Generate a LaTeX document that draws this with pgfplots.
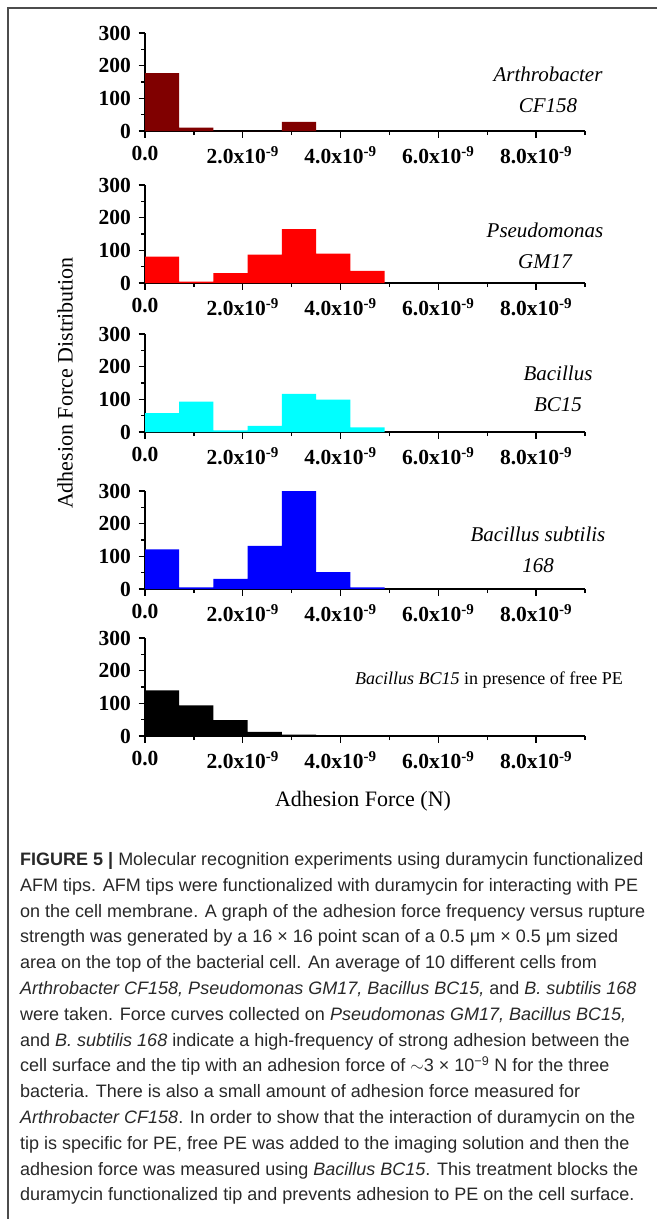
\documentclass[border=0pt]{standalone}
\usepackage{fontspec}
\setmainfont{Liberation Serif}
\newfontfamily\capfont{Liberation Sans}
\usepackage{pgfplots}
\pgfplotsset{compat=1.18}

\definecolor{arthro}{RGB}{128,0,0}
\definecolor{pseudo}{RGB}{255,0,0}
\definecolor{bcfift}{RGB}{0,255,255}
\definecolor{subtil}{RGB}{0,0,255}
\definecolor{captxt}{RGB}{40,40,40}

% one histogram panel; x in units of 1e-9 N, bins 0.7e-9 wide
\pgfplotsset{panel/.style={
  scale only axis, width=440pt, height=98pt,
  anchor=south west,
  xmin=0, xmax=9, ymin=0, ymax=300,
  axis lines*=left,
  axis line style={line width=1.6pt},
  every tick/.style={line width=1.3pt, black},
  tick align=outside,
  major tick length=6.5pt, minor tick length=4pt,
  xtick={0,2,4,6,8}, minor xtick={1,3,5,7,9},
  xticklabels={0.0, 2.0x10\textsuperscript{-9}, 4.0x10\textsuperscript{-9},
    6.0x10\textsuperscript{-9}, 8.0x10\textsuperscript{-9}},
  ytick={0,100,200,300}, minor ytick={50,150,250},
  /pgf/number format/assume math mode=true,
  tick label style={font=\fontsize{21.5}{21.5}\selectfont\bfseries},
  xticklabel style={yshift=-5pt},
  yticklabel style={xshift=-4pt},
  clip=false,
}}

\begin{document}
\begin{tikzpicture}[x=1pt,y=1pt]
\useasboundingbox (0,0) rectangle (657,-1219);
\draw[line width=1.3pt, black!70] (657,-8) -- (8,-8) -- (8,-1219);

\begin{axis}[panel, at={(145pt,-131pt)}]
\addplot[ybar interval, fill=arthro, draw=none] coordinates
  {(0,177) (0.7,10) (1.4,0) (2.1,0) (2.8,28) (3.5,0)};
\end{axis}

\begin{axis}[panel, at={(145pt,-283pt)}]
\addplot[ybar interval, fill=pseudo, draw=none] coordinates
  {(0,81) (0.7,4) (1.4,30) (2.1,87) (2.8,165) (3.5,90) (4.2,37) (4.9,0)};
\end{axis}

\begin{axis}[panel, at={(145pt,-432pt)}]
\addplot[ybar interval, fill=bcfift, draw=none] coordinates
  {(0,58) (0.7,93) (1.4,5) (2.1,19) (2.8,117) (3.5,99) (4.2,14) (4.9,0)};
\end{axis}

\begin{axis}[panel, at={(145pt,-589pt)}]
\addplot[ybar interval, fill=subtil, draw=none] coordinates
  {(0,121) (0.7,5) (1.4,31) (2.1,132) (2.8,300) (3.5,52) (4.2,5) (4.9,0)};
\end{axis}

\begin{axis}[panel, at={(145pt,-736pt)}]
\addplot[ybar interval, fill=black, draw=none] coordinates
  {(0,140) (0.7,94) (1.4,49) (2.1,13) (2.8,4) (3.5,0)};
\end{axis}

% strain names
\tikzset{spec/.style={align=center, font=\fontsize{21}{31}\selectfont\itshape, inner sep=0pt}}
\node[spec] at (548,-90) {Arthrobacter\\CF158};
\node[spec] at (545,-246) {Pseudomonas\\GM17};
\node[spec] at (558,-389) {Bacillus\\BC15};
\node[spec] at (538,-550) {Bacillus subtilis\\168};
\node[inner sep=0pt, font=\fontsize{18}{18}\selectfont] at (489,-680)
  {\textit{Bacillus BC15} in presence of free PE};

% axis titles
\node[rotate=90, font=\fontsize{22}{22}\selectfont] at (65,-383) {Adhesion Force Distribution};
\node[font=\fontsize{22}{22}\selectfont] at (363,-801) {Adhesion Force (N)};

% caption
\tikzset{capline/.style={anchor=base west, inner sep=0pt, text=captxt,
  font=\capfont\fontsize{18}{18}\selectfont}}
\node[capline] at (20,-865.5) {\textbf{FIGURE 5 |} Molecular recognition experiments using duramycin functionalized};
\node[capline] at (20,-891.3) {AFM tips. AFM tips were functionalized with duramycin for interacting with PE};
\node[capline] at (20,-917.1) {on the cell membrane. A graph of the adhesion force frequency versus rupture};
\node[capline] at (20,-942.9) {strength was generated by a 16 × 16 point scan of a 0.5 μm × 0.5 μm sized};
\node[capline] at (20,-968.7) {area on the top of the bacterial cell. An average of 10 different cells from};
\node[capline] at (20,-994.5) {\textit{Arthrobacter CF158, Pseudomonas GM17, Bacillus BC15,} and \textit{B. subtilis 168}};
\node[capline] at (20,-1020.3) {were taken. Force curves collected on \textit{Pseudomonas GM17, Bacillus BC15,}};
\node[capline] at (20,-1046.1) {and \textit{B. subtilis 168} indicate a high-frequency of strong adhesion between the};
\node[capline] at (20,-1071.9) {cell surface and the tip with an adhesion force of $\sim$3 × 10\textsuperscript{−9} N for the three};
\node[capline] at (20,-1097.7) {bacteria. There is also a small amount of adhesion force measured for};
\node[capline] at (20,-1123.5) {\textit{Arthrobacter CF158}. In order to show that the interaction of duramycin on the};
\node[capline] at (20,-1149.3) {tip is specific for PE, free PE was added to the imaging solution and then the};
\node[capline] at (20,-1175.1) {adhesion force was measured using \textit{Bacillus BC15}. This treatment blocks the};
\node[capline] at (20,-1200.9) {duramycin functionalized tip and prevents adhesion to PE on the cell surface.};
\end{tikzpicture}
\end{document}
